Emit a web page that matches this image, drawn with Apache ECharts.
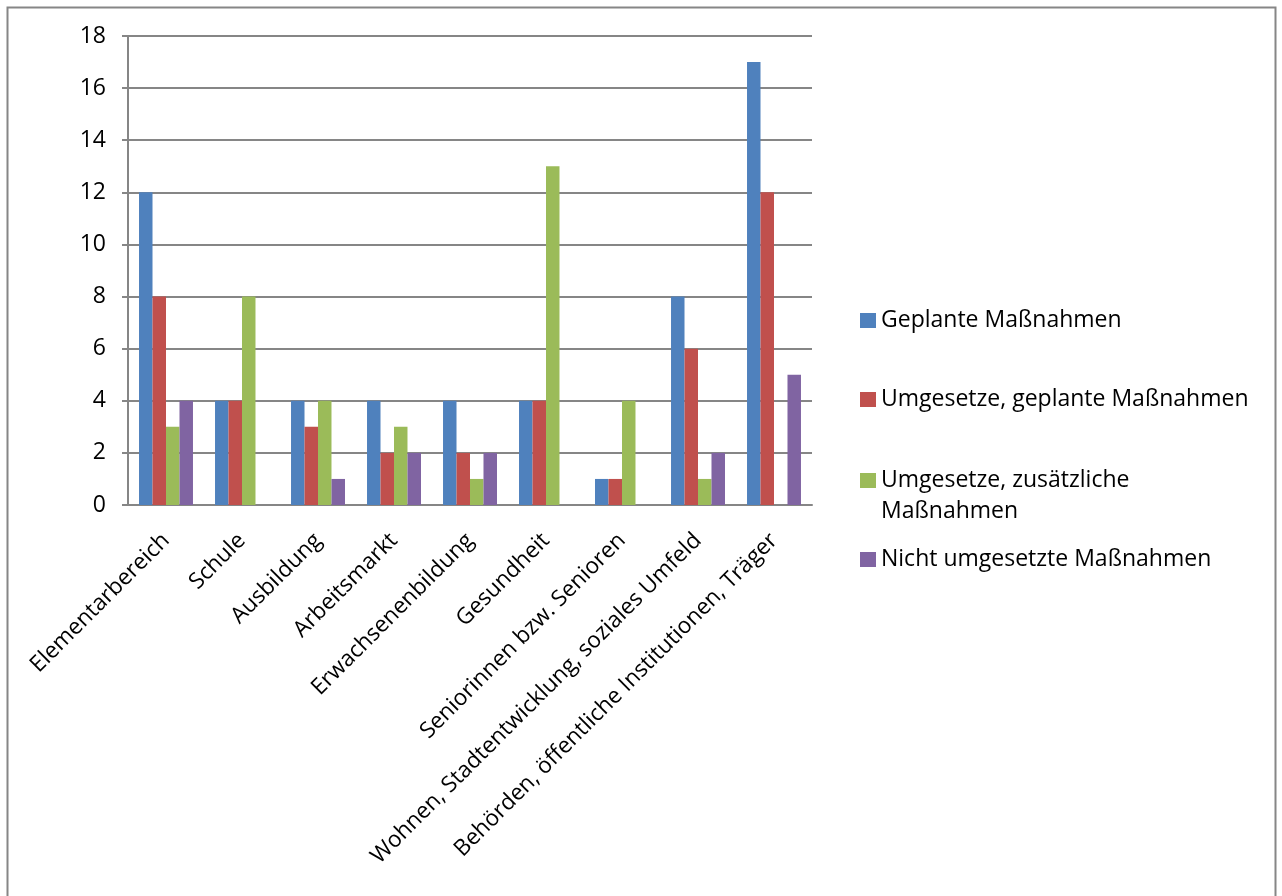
<!DOCTYPE html>
<html><head><meta charset="utf-8">
<script src="https://cdn.jsdelivr.net/npm/echarts@6/dist/echarts.min.js"></script>
<style>html,body{margin:0;padding:0;background:#fff}#c{width:1282px;height:896px}</style>
</head><body><div id="c"></div>
<script>
const categories = ['Elementarbereich','Schule','Ausbildung','Arbeitsmarkt','Erwachsenenbildung','Gesundheit','Seniorinnen bzw. Senioren','Wohnen, Stadtentwicklung, soziales Umfeld','Behörden, öffentliche Institutionen, Träger'];
const seriesNames = ['Geplante Maßnahmen','Umgesetze, geplante Maßnahmen','Umgesetze, zusätzliche Maßnahmen','Nicht umgesetzte Maßnahmen'];
const geplant = [12,4,4,4,4,4,1,8,17];
const umgesetztGeplant = [8,4,3,2,2,4,1,6,12];
const umgesetztZusaetzlich = [3,8,4,3,1,13,4,1,0];
const nichtUmgesetzt = [4,0,1,2,2,0,0,2,5];
const yTicks = [0,2,4,6,8,10,12,14,16,18];

const colors = ['#4F81BD','#C0504D','#9BBB59','#8064A2'];
const values = [geplant, umgesetztGeplant, umgesetztZusaetzlich, nichtUmgesetzt];
const FONT = 'Open Sans';
const legendTops = [304, 383, 429, 543];

const chart = echarts.init(document.getElementById('c'));
chart.setOption({
  animation: false,
  backgroundColor: '#fff',
  textStyle: {fontFamily: FONT},
  graphic: [{type:'rect', shape:{x:7.5,y:7.5,width:1268,height:900}, style:{fill:'none', stroke:'#868686', lineWidth:2}, silent:true}],
  grid: {left:128, right:470, top:36, bottom:391},
  xAxis: {
    type:'category', data: categories,
    axisLine:{lineStyle:{color:'#868686', width:2}},
    axisTick:{length:8, lineStyle:{color:'#868686', width:2}},
    axisLabel:{rotate:45, fontSize:22.5, color:'#000', fontFamily:FONT, margin:32, interval:0}
  },
  yAxis: {
    type:'value', min:yTicks[0], max:yTicks[yTicks.length-1], interval:2,
    axisLine:{show:true, lineStyle:{color:'#868686', width:2}},
    axisTick:{show:true, length:6, lineStyle:{color:'#868686', width:2}},
    axisLabel:{fontSize:23, color:'#000', fontFamily:FONT, margin:22},
    splitLine:{lineStyle:{color:'#868686', width:2}}
  },
  legend: seriesNames.map((n,i)=>({
    data:[n], orient:'vertical', left:855, top:legendTops[i],
    itemWidth:16, itemHeight:15, icon:'rect', itemGap:10,
    formatter: i===2 ? '\nUmgesetze, zusätzliche\nMaßnahmen' : undefined,
    textStyle: i===2 ? {fontSize:23, color:'#000', fontFamily:FONT, lineHeight:31} : {fontSize:23, color:'#000', fontFamily:FONT}
  })),
  series: seriesNames.map((n,i)=>({
    name:n, type:'bar', data: values[i],
    itemStyle:{color:colors[i]},
    barGap:'0%', barCategoryGap:'29%'
  }))
});
</script></body></html>
